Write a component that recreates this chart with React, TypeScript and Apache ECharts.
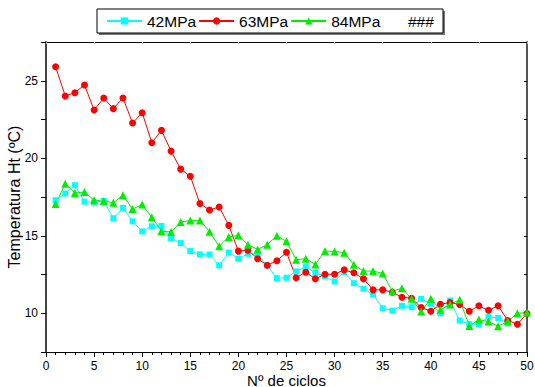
import React, { useEffect, useRef } from "react";
import * as echarts from "echarts";

const cyclesCyan: number[] = Array.from({ length: 48 }, (_, i) => i + 1);
const cyclesRG: number[] = Array.from({ length: 50 }, (_, i) => i + 1);

const mpa42: number[] = [
  17.29, 17.72, 18.26, 17.2, 17.16, 17.25, 16.13, 16.79, 15.93, 15.28,
  15.61, 15.63, 14.85, 14.53, 14.01, 13.8, 13.79, 13.09, 13.91, 13.52,
  13.84, 13.8, 13.07, 12.26, 12.29, 12.7, 12.98, 12.61, 12.39, 12.05,
  12.65, 11.94, 11.58, 11.21, 10.32, 10.17, 10.48, 10.39, 10.93, 10.61,
  10.0, 10.82, 9.53, 9.31, 9.27, 9.77, 9.7, 9.35,
];
const mpa63: number[] = [
  25.9, 24.02, 24.23, 24.73, 23.11, 23.89, 23.2, 23.89, 22.27, 22.94,
  21.0, 21.8, 20.46, 19.3, 18.84, 17.08, 16.66, 16.86, 15.67, 14.01,
  14.07, 13.52, 13.1, 13.39, 13.93, 12.29, 12.65, 12.22, 12.52, 12.52,
  12.8, 12.61, 12.22, 11.51, 11.51, 11.36, 11.03, 10.97, 10.37, 10.13,
  10.58, 10.69, 10.56, 10.13, 10.48, 10.19, 10.48, 9.53, 9.29, 9.98,
];
const mpa84: number[] = [
  17.05, 18.35, 17.76, 17.82, 17.29, 17.24, 17.13, 17.61, 16.72, 17.01,
  16.19, 15.3, 15.24, 15.89, 15.98, 15.99, 15.26, 14.32, 14.92, 15.03,
  14.42, 14.12, 14.42, 15.0, 14.64, 13.45, 13.52, 13.15, 14.01, 13.99,
  13.91, 13.13, 12.72, 12.72, 12.57, 11.42, 11.62, 10.93, 10.11, 10.93,
  10.22, 10.56, 10.87, 9.18, 9.59, 9.46, 9.16, 9.48, 10.0, 10.05,
];

const seriesNames: string[] = ["42MPa", "63MPa", "84MPa"];
const xTitle = "Nº de ciclos";
const yTitle = "Temperatura Ht (ºC)";

const FONT = "'Liberation Sans', Arial, sans-serif";

export default function App() {
  const ref = useRef<HTMLDivElement>(null);
  useEffect(() => {
    if (!ref.current) return;
    const chart = echarts.init(ref.current, null, { renderer: "svg" });
    const pairs = (xs: number[], ys: number[]) => xs.map((x, i) => [x, ys[i]]);
    chart.setOption({
      animation: false,
      backgroundColor: "#ffffff",
      textStyle: { fontFamily: FONT },
      grid: { left: 46, right: 8, top: 42, bottom: 35, containLabel: false, outerBoundsMode: "none" },
      legend: {
        left: 106,
        top: 13,
        padding: 0,
        itemWidth: 35,
        itemHeight: 9,
        itemGap: 2,
        data: seriesNames,
        textStyle: { fontSize: 15.5, color: "#000", fontFamily: FONT },
      },
      graphic: [
        { type: "rect", shape: { x: 99, y: 11, width: 346, height: 24 }, style: { fill: "#777" }, z: -2 },
        { type: "rect", shape: { x: 97, y: 9, width: 346, height: 24 }, style: { fill: "#fff", stroke: "#000", lineWidth: 1 }, z: -1 },
        {
          type: "text",
          x: 408,
          y: 21,
          style: { text: "###", fontSize: 15.5, fontFamily: FONT, fill: "#000", verticalAlign: "middle" },
        },
      ],
      xAxis: [
        {
          type: "value",
          min: 0,
          max: 50,
          interval: 5,
          name: xTitle,
          nameLocation: "middle",
          nameGap: 21,
          nameMoveOverlap: false,
          nameTextStyle: { fontSize: 15, lineHeight: 14, color: "#000", fontFamily: FONT },
          axisLine: { show: true, onZero: false, lineStyle: { color: "#000", width: 1.2 } },
          axisTick: { show: true, length: 5, lineStyle: { color: "#000" } },
          minorTick: { show: true, splitNumber: 5, length: 3, lineStyle: { color: "#000" } },
          axisLabel: { fontSize: 12, lineHeight: 12, color: "#000", margin: 8, fontFamily: FONT },
          splitLine: { show: false },
        },
        {
          type: "value",
          position: "top",
          min: 0,
          max: 50,
          interval: 5,
          axisLine: { show: true, onZero: false, lineStyle: { color: "#000", width: 1 } },
          axisTick: { show: true, inside: true, length: 2, lineStyle: { color: "#bbb" } },
          axisLabel: { show: false },
          splitLine: { show: false },
        },
      ],
      yAxis: [
        {
          type: "value",
          min: 7.5,
          max: 27.5,
          interval: 2.5,
          name: yTitle,
          nameLocation: "middle",
          nameGap: 24,
          nameMoveOverlap: false,
          nameTextStyle: { fontSize: 16, color: "#000", fontFamily: FONT },
          axisLine: { show: true, onZero: false, lineStyle: { color: "#444", width: 2 } },
          axisTick: { show: true, length: 5, lineStyle: { color: "#000" } },
          axisLabel: {
            fontSize: 12,
            color: "#000",
            margin: 8,
            fontFamily: FONT,
            formatter: (v: number) => (v % 5 === 0 ? String(v) : ""),
          },
          splitLine: { show: false },
        },
        {
          type: "value",
          position: "right",
          min: 7.5,
          max: 27.5,
          interval: 2.5,
          axisLine: { show: true, onZero: false, lineStyle: { color: "#555", width: 2 } },
          axisTick: { show: true, inside: true, length: 3, lineStyle: { color: "#000" } },
          axisLabel: { show: false },
          splitLine: { show: false },
        },
      ],
      series: [
        {
          name: seriesNames[0],
          type: "line",
          data: pairs(cyclesCyan, mpa42),
          symbol: "rect",
          symbolSize: 6,
          itemStyle: { color: "#00ffff" },
          lineStyle: { color: "#00ffff", width: 1 },
        },
        {
          name: seriesNames[1],
          type: "line",
          data: pairs(cyclesRG, mpa63),
          symbol: "circle",
          symbolSize: 7,
          itemStyle: { color: "#ff0000" },
          lineStyle: { color: "#ff0000", width: 1 },
        },
        {
          name: seriesNames[2],
          type: "line",
          data: pairs(cyclesRG, mpa84),
          symbol: "triangle",
          symbolSize: 8,
          itemStyle: { color: "#00ee00" },
          lineStyle: { color: "#00ee00", width: 1 },
        },
      ],
    });
    return () => chart.dispose();
  }, []);
  return (
    <div
      ref={ref}
      style={{ position: "fixed", left: 0, top: 0, width: 535, height: 387 }}
    />
  );
}
